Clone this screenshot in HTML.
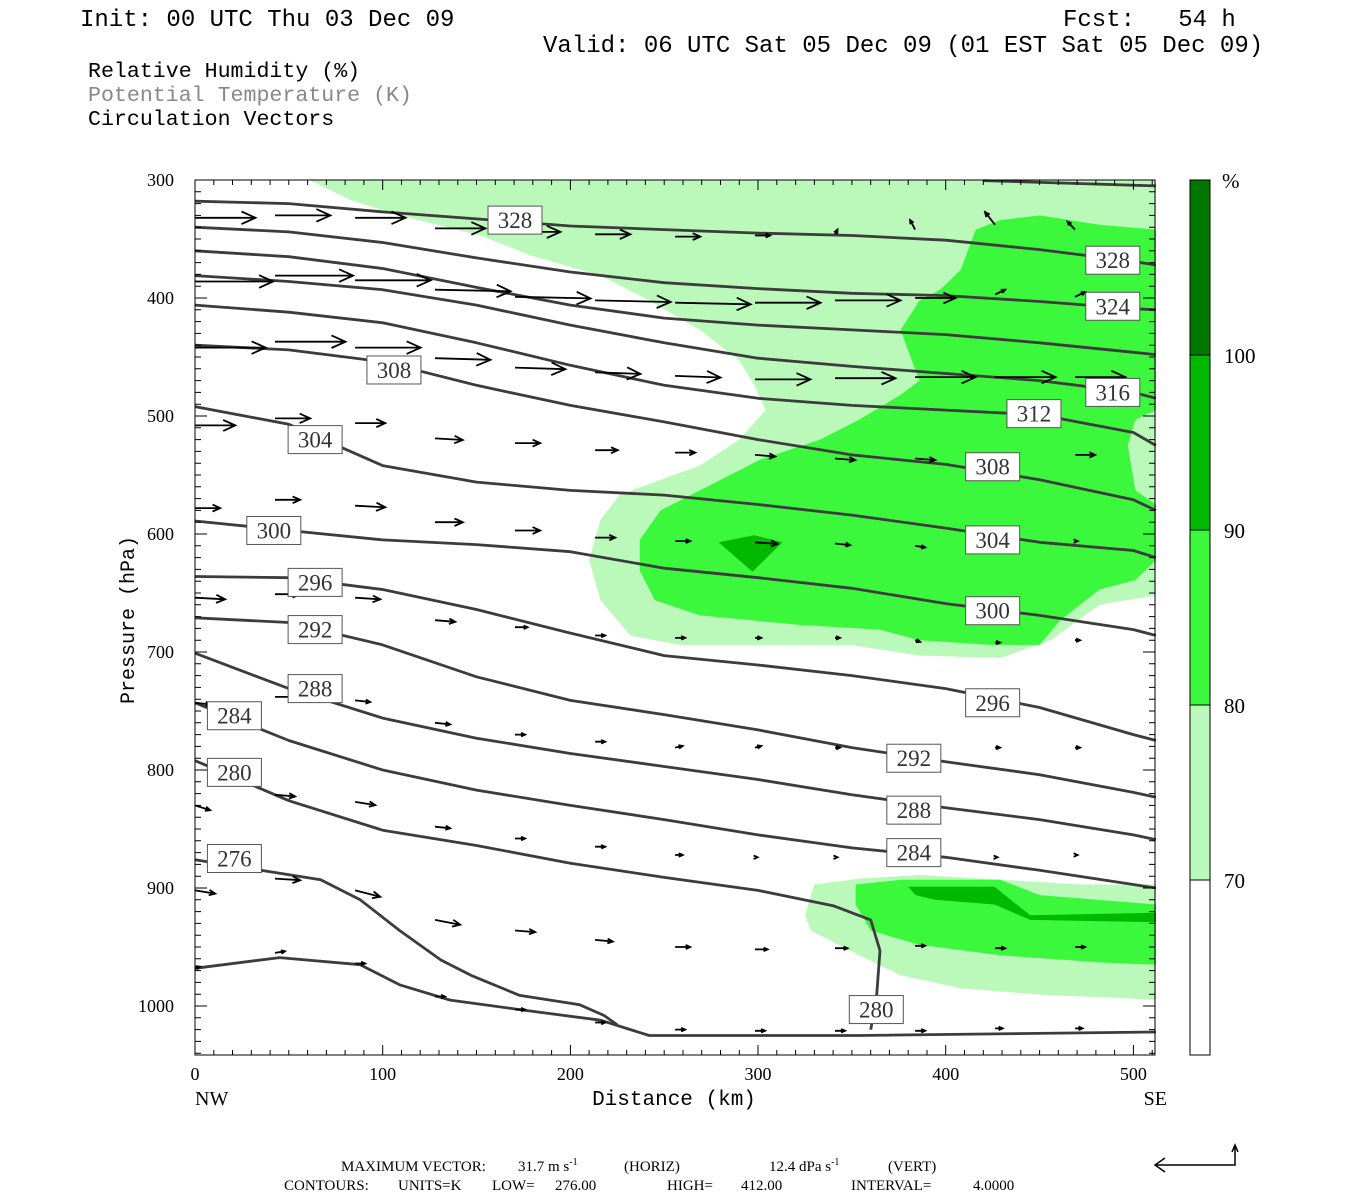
<!DOCTYPE html>
<html><head><meta charset="utf-8"><style>
body{margin:0;background:#fff;width:1350px;height:1200px;overflow:hidden}
svg{display:block}
.mono{font-family:"Liberation Mono",monospace}
.serif{font-family:"Liberation Serif",serif}
</style></head><body>
<svg id="chart" width="1350" height="1200" viewBox="0 0 1350 1200" xmlns="http://www.w3.org/2000/svg">
<g class="mono" font-size="24" fill="#000">
<text x="80" y="26">Init: 00 UTC Thu 03 Dec 09</text>
<text x="1063" y="26" xml:space="preserve">Fcst:   54 h</text>
<text x="543" y="52">Valid: 06 UTC Sat 05 Dec 09 (01 EST Sat 05 Dec 09)</text>
</g>
<g class="mono" font-size="21.6">
<text x="88" y="77" fill="#000">Relative Humidity (%)</text>
<text x="88" y="101" fill="#888">Potential Temperature (K)</text>
<text x="88" y="125" fill="#000">Circulation Vectors</text>
</g>
<g id="fills"></g>
<g id="contours"></g>
<g id="vectors"></g>
<g id="labels"></g>
<g id="axes"></g>
<g id="cbar"></g>
<g class="serif" font-size="15" fill="#000">
<text y="1171"><tspan x="341">MAXIMUM VECTOR:</tspan><tspan x="518">31.7 m s</tspan><tspan dy="-6" font-size="10">-1</tspan><tspan dy="6" x="624">(HORIZ)</tspan><tspan x="769">12.4 dPa s</tspan><tspan dy="-6" font-size="10">-1</tspan><tspan dy="6" x="888">(VERT)</tspan></text>
<text y="1190"><tspan x="284">CONTOURS:</tspan><tspan x="398">UNITS=K</tspan><tspan x="492">LOW=</tspan><tspan x="555">276.00</tspan><tspan x="667">HIGH=</tspan><tspan x="741">412.00</tspan><tspan x="851">INTERVAL=</tspan><tspan x="973">4.0000</tspan></text>
<path d="M1155 1165 L1235 1165 L1235 1145 M1165 1158 L1155 1165 L1165 1172 M1232 1152 L1235 1145 L1238 1152" stroke="#000" stroke-width="1.5" fill="none"/>
</g>
</svg>
<script>
const X0=195,X1=1155,KM1=511.5;
const Y0=180,Y1=1055,P0=300,P1=1041.5;
function sx(km){return X0+(km/KM1)*(X1-X0);}
function sy(p){return Y0+(p-P0)/(P1-P0)*(Y1-Y0);}
const NS='http://www.w3.org/2000/svg';
function mk(tag,attrs,parent){const e=document.createElementNS(NS,tag);for(const k in attrs)e.setAttribute(k,attrs[k]);parent.appendChild(e);return e;}

const xTicks=[0,100,200,300,400,500];
const yTicks=[300,400,500,600,700,800,900,1000];
const cbarLevels=['70','80','90','100'];
const cbarColors=['#ffffff','#bbf9bb','#3cf83c','#00b800','#007800'];
const rhLight1=[[61,300],[83,317],[109,330],[152,347],[179,364],[216,381],[242,402],[269,427],[290,453],[298,474],[304,495],[290,520],[269,542],[248,554],[226,567],[216,588],[210,622],[216,656],[232,686],[258,694],[301,694],[349,694],[386,703],[429,705],[456,690],[482,660],[512,652],[512,300]];
const rhMid1=[[408,376],[416,342],[429,334],[450,330],[482,338],[512,342],[512,495],[501,503],[497,525],[501,563],[512,575],[512,622],[501,639],[482,647],[461,673],[450,694],[424,694],[386,690],[365,681],[322,677],[269,669],[245,656],[237,631],[237,605],[248,580],[269,563],[301,537],[333,520],[354,503],[376,482],[386,470],[378,436],[376,427],[386,402],[397,393]];
const rhDark1=[[279,607],[298,601],[313,607],[297,632]];
const rhLight2=[[330,897],[354,892],[386,889],[429,893],[472,897],[512,897],[512,995],[493,993],[456,991],[408,985],[376,974],[349,953],[328,936],[325,923]];
const rhMid2=[[352,897],[376,893],[429,893],[450,906],[512,914],[512,965],[482,963],[429,957],[386,948],[360,936],[352,914]];
const rhDark2=[[380,899],[426,899],[445,923],[512,921],[512,929],[445,927],[426,914],[394,910],[384,906]];

const kmGrid=[0,50,100,150,200,250,300,350,400,450,500,512];
const th328=[318,320,327,333,339,342,345,347,351,359,369,372];
const th324=[340,344,353,366,378,387,392,396,398,403,409,410];
const th320=[360,365,375,391,406,417,423,427,431,438,446,448];
const th316=[381,386,393,406,423,438,451,458,464,470,480,485];
const th312=[406,412,421,438,457,474,485,491,495,499,514,525];
const th308=[440,444,454,474,491,505,520,533,541,554,571,580];
const th304=[492,507,542,556,563,567,575,584,595,607,614,620];
const th300=[589,597,605,609,615,629,637,646,659,669,681,686];
const th296=[636,637,647,664,684,703,711,720,731,747,770,775];
const th292=[671,675,694,721,741,753,766,781,793,804,819,823];
const th288=[701,731,756,773,786,797,808,821,832,842,855,859];
const th284=[743,775,800,817,830,842,855,866,874,885,897,900];
const th332Km=[420,470,512], th332=[300.5,303,305];
const th280Km=[0,50,100,150,200,250,300,340,360,365,363,360];
const th280=[792,826,851,864,879,891,902,915,927,953,995,1020];
const th276Km=[0,35,67,88,109,131,147,173,205,218,225];
const th276=[876,885,893,910,936,961,974,991,999,1008,1016];
const th272Km=[0,45,88,109,136,173,216,242,354,512];
const th272=[968,959,965,982,995,1003,1012,1025,1025,1022];

const labelVals=[328,328,324,316,312,308,308,304,304,300,300,296,296,292,292,288,288,284,284,280,280,276];
const labelKm=[170.5,489,489,489,447,106,425,64,425,42,425,64,425,64,383,64,383,21,383,21,363,21];
const labelP=[334,368,407,480,498,461,543,520,605,597,665,641,743,681,790,731,834,754,870,802,1003,875];

const vecKm=[0,42.6,85.3,127.9,170.5,213.2,255.8,298.4,341,383.7,426.3,468.9];
const vP1=[332,330,332,341,344,346,348,347,346,342,338,342];
const vU1=[24,22,20,20,18,14,10,6,1,-2,-4,-3];
const vW1=[0,0,0,0,0,0,0,0,3,6,8,5];
const vP2=[386,381,385,393,399,402,404,404,402,400,397,399];
const vU2=[31,31,30,30,30,30,30,26,26,16,4,4];
const vW2=[0,0,0,-1,-1,-1,-1,0,0,0,3,3];
const vP3=[442,437,442,451,459,463,466,469,468,467,467,467];
const vU3=[28,28,26,22,20,18,18,22,24,24,24,20];
const vW3=[0,0,0,-1,-1,-1,-1,0,0,0,0,0];
const vP4=[508,502,506,519,523,529,531,533,536,536,535,533];
const vU4=[16,14,12,11,10,9,8,8,8,8,6,8];
const vW4=[0,0,0,-1,0,0,0,-1,-1,-1,0,0];
const vP5=[578,571,576,590,597,603,606,607,608,610,609,606];
const vU5=[10,10,12,11,10,8,6,9,6,4,1,1];
const vW5=[0,0,-1,0,0,0,0,-1,-1,-1,0,0];
const vP6=[654,651,654,673,679,686,688,688,688,690,692,690];
const vU6=[12,10,10,8,5,4,4,2.5,2,2,2,2];
const vW6=[-1,0,-1,-1,0,0,0,0,0,-1,0,0];
const vP7=[743,738,741,760,770,776,781,781,781,781,781,781];
const vU7=[6,10,6,6,4,4,3,2.5,2,1,2,2];
const vW7=[-1,0,-1,-1,0,0,1,1,0,0,0,0];
const vP8=[830,821,827,848,858,865,872,874,874,874,874,872];
const vU8=[6,8,8,6,4,4,3,1,1,1,1,1];
const vW8=[-3,-1,-2,-1,0,0,0,0,0,0,0,0];
const vP9=[902,892,902,927,936,944,950,952,951,949,951,950];
const vU9=[8,10,10,10,8,7,6,5,5,4,4,4];
const vW9=[-2,-1,-4,-3,-1,-1,0,0,0,0,0,0];
const vP10=[968,955,964,992,1003,1014,1020,1021,1021,1021,1019,1019];
const vU10=[2,4,4,4,4,4,4,4,4,4,3,3];
const vW10=[1,1,0,0,0,0,0,0,0,0,0,0];
const PX_PER_MS=2.52, PX_PER_W=1.6;

const fillsG=document.getElementById('fills');
function poly(pts,color,name){const d=pts.map((q,i)=>(i?'L':'M')+sx(q[0]).toFixed(1)+' '+sy(q[1]).toFixed(1)).join(' ')+'Z';
 const e=mk('path',{d:d,fill:color},fillsG);
 
 }
poly(rhLight1,cbarColors[1],'rh-70-80-upper');
poly(rhMid1,cbarColors[2],'rh-80-90-upper');
poly(rhDark1,cbarColors[3],'rh-90-100-upper');
poly(rhLight2,cbarColors[1],'rh-70-80-lower');
poly(rhMid2,cbarColors[2],'rh-80-90-lower');
poly(rhDark2,cbarColors[3],'rh-90-100-lower');

const cG=document.getElementById('contours');
function line(kms,ps,name){const d=kms.map((k,i)=>(i?'L':'M')+sx(k).toFixed(1)+' '+sy(ps[i]).toFixed(1)).join(' ');
 const e=mk('path',{d:d,fill:'none',stroke:'#3c3c3c','stroke-width':2.8,'stroke-linejoin':'round'},cG);
 
 }
const gridLines=[[th328,'328'],[th324,'324'],[th320,'320'],[th316,'316'],[th312,'312'],[th308,'308'],[th304,'304'],[th300,'300'],[th296,'296'],[th292,'292'],[th288,'288'],[th284,'284']];
gridLines.forEach(g=>line(kmGrid,g[0],'theta-'+g[1]));
line(th332Km,th332,'theta-332');
line(th280Km,th280,'theta-280');
line(th276Km,th276,'theta-276');
line(th272Km,th272,'theta-272');

const vG=document.getElementById('vectors');
const rowsP=[vP1,vP2,vP3,vP4,vP5,vP6,vP7,vP8,vP9,vP10];
const rowsU=[vU1,vU2,vU3,vU4,vU5,vU6,vU7,vU8,vU9,vU10];
const rowsW=[vW1,vW2,vW3,vW4,vW5,vW6,vW7,vW8,vW9,vW10];
rowsP.forEach((P,r)=>{P.forEach((p,c)=>{
 const x=sx(vecKm[c]),y=sy(p);
 const dx=rowsU[r][c]*PX_PER_MS, dy=-rowsW[r][c]*PX_PER_W;
 const L=Math.hypot(dx,dy); if(L<0.5)return;
 const ux=dx/L,uy=dy/L, h=Math.min(14,Math.max(4,L*0.3));
 const x2=x+dx,y2=y+dy;
 const ax=x2-h*ux-h*0.45*uy, ay=y2-h*uy+h*0.45*ux, bx=x2-h*ux+h*0.45*uy, by=y2-h*uy-h*0.45*ux;
 const e=mk('path',{d:`M${x.toFixed(1)} ${y.toFixed(1)} L${x2.toFixed(1)} ${y2.toFixed(1)} M${ax.toFixed(1)} ${ay.toFixed(1)} L${x2.toFixed(1)} ${y2.toFixed(1)} L${bx.toFixed(1)} ${by.toFixed(1)}`,stroke:'#000','stroke-width':1.8,fill:'none'},vG);
 
 
});});

const lG=document.getElementById('labels');
labelVals.forEach((v,i)=>{const x=sx(labelKm[i]),y=sy(labelP[i]);
 const r=mk('rect',{x:x-27,y:y-14,width:54,height:28,fill:'#fff',stroke:'#555','stroke-width':1},lG);
 
 
 const t=mk('text',{x:x,y:y+8,'text-anchor':'middle','font-size':23,fill:'#333','class':'serif'},lG);
 t.textContent=v;
 
 
});

const aG=document.getElementById('axes');
const fr=mk('rect',{x:X0,y:Y0,width:X1-X0,height:Y1-Y0,fill:'none',stroke:'#000','stroke-width':1},aG);


let td='';
for(let k=0;k<=510;k+=10){const x=sx(k).toFixed(1);const l=(k%100===0)?10:5;td+=`M${x} ${Y0}v${l}M${x} ${Y1}v${-l}`;}
for(let p=300;p<=1040;p+=10){const y=sy(p).toFixed(1);const l=(p%100===0)?12:6;td+=`M${X0} ${y}h${l}M${X1} ${y}h${-l}`;}
const tk=mk('path',{d:td,stroke:'#000','stroke-width':1,fill:'none'},aG);


xTicks.forEach(k=>{const t=mk('text',{x:sx(k),y:1080,'text-anchor':'middle','font-size':18,'class':'serif'},aG);t.textContent=k;
 
 });
yTicks.forEach(p=>{const t=mk('text',{x:174,y:sy(p)+6,'text-anchor':'end','font-size':18,'class':'serif'},aG);t.textContent=p;
 
 });
[['NW',195,'start'],['SE',1167,'end']].forEach(a=>{const t=mk('text',{x:a[1],y:1105,'text-anchor':a[2],'font-size':20,'class':'serif'},aG);t.textContent=a[0];
 
 });
const xt=mk('text',{x:674,y:1105,'text-anchor':'middle','font-size':21,'class':'mono'},aG);xt.textContent='Distance (km)';


const yt=mk('text',{x:0,y:0,'text-anchor':'middle','font-size':20,'class':'mono',transform:'translate(134,620) rotate(-90)'},aG);yt.textContent='Pressure (hPa)';



const cbG=document.getElementById('cbar');
const CB_TOP=180,CB_H=175;
for(let i=0;i<5;i++){const y=CB_TOP+(4-i)*CB_H;
 const r=mk('rect',{x:1190,y:y,width:20,height:CB_H,fill:cbarColors[i],stroke:'#000','stroke-width':1},cbG);
 
 }
cbarLevels.forEach((l,i)=>{const t=mk('text',{x:1224,y:CB_TOP+(4-i-1)*CB_H+CB_H+8,'font-size':21,'class':'serif'},cbG);t.textContent=l;
 
 });
const pc=mk('text',{x:1222,y:188,'font-size':21,'class':'serif'},cbG);pc.textContent='%';


</script>
</body></html>
